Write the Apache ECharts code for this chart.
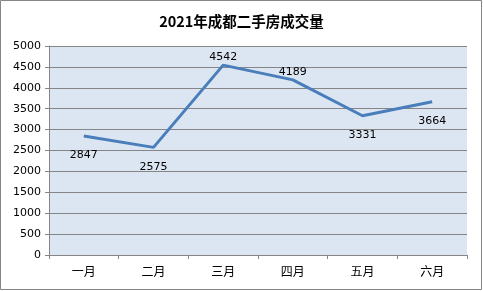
<!DOCTYPE html>
<html><head><meta charset="utf-8">
<script src="https://cdn.jsdelivr.net/npm/echarts@6/dist/echarts.min.js"></script>
<style>html,body{margin:0;padding:0;background:#fff}#c{width:483px;height:291px}</style>
</head><body><div id="c"></div>
<script>
const categories = ['一月','二月','三月','四月','五月','六月'];
const values = [2847, 2575, 4542, 4189, 3331, 3664];
const labelPos = ['bottom','bottom','top','top','bottom','bottom'];
const yTicks = {min: 0, max: 5000, interval: 500};
const chart = echarts.init(document.getElementById('c'));
const font = 'DejaVu Sans, sans-serif';
chart.setOption({
  animation: false,
  graphic: [{type:'rect', shape:{x:0.5,y:0.5,width:481,height:289}, style:{fill:'none', stroke:'#868686', lineWidth:1}, z:100}],
  title: {text:'2021年成都二手房成交量', left:'center', top:9,
    textStyle:{fontSize:14.5, fontWeight:'bold', color:'#000', fontFamily:'Noto Sans CJK SC, sans-serif'}},
  grid: {left:49, right:16, top:46, bottom:36, show:true, backgroundColor:'#DCE6F2', borderWidth:0},
  xAxis: {type:'category', data:categories, boundaryGap:true,
    axisLine:{lineStyle:{color:'#868686'}}, axisTick:{show:true, length:4, lineStyle:{color:'#868686'}},
    axisLabel:{color:'#000', fontSize:12, fontFamily:'Noto Sans CJK SC, sans-serif', margin:10}},
  yAxis: {type:'value', min:yTicks.min, max:yTicks.max, interval:yTicks.interval,
    axisLine:{show:true, lineStyle:{color:'#868686'}}, axisTick:{show:true, length:4, lineStyle:{color:'#868686'}},
    splitLine:{lineStyle:{color:'#868686', width:1}},
    axisLabel:{color:'#000', fontSize:11, fontFamily:font, margin:8, formatter: v => String(v)}},
  series: [{type:'line', data: values.map((v,i)=>({value:v, label:{position:labelPos[i], distance: labelPos[i]==='top'?2:14}})),
    symbol:'circle', symbolSize:0.01, showSymbol:true,
    lineStyle:{color:'#4A7EBB', width:3}, itemStyle:{color:'#4A7EBB'},
    label:{show:true, color:'#000', fontSize:11, fontFamily:font}}]
});
</script></body></html>
